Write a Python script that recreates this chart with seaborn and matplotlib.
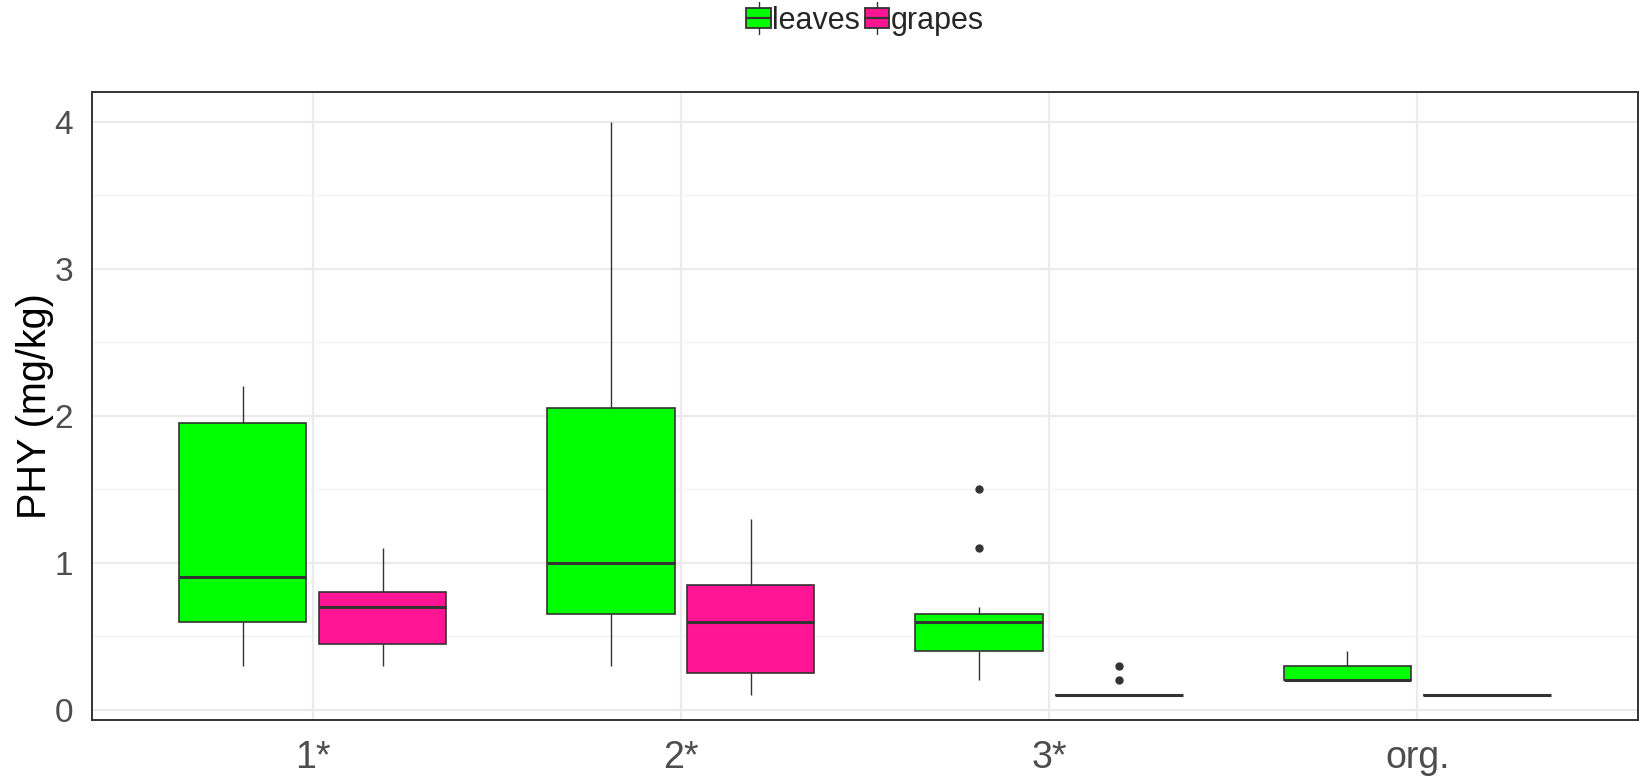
import numpy as np
import pandas as pd
import matplotlib
matplotlib.use("Agg")
import matplotlib.pyplot as plt
from matplotlib.patches import Patch, Rectangle
from matplotlib.lines import Line2D
from matplotlib.legend_handler import HandlerBase
import seaborn as sns

# raw values per treatment / tissue
groups = ["1*", "2*", "3*", "org."]
tissues = ["leaves", "grapes"]

leaves_1 = [0.3, 0.6, 0.9, 1.95, 2.2]
grapes_1 = [0.3, 0.45, 0.7, 0.8, 1.1]
leaves_2 = [0.3, 0.65, 1.0, 2.05, 4.0]
grapes_2 = [0.1, 0.25, 0.6, 0.85, 1.3]
leaves_3 = [0.2, 0.3, 0.4, 0.4, 0.5, 0.6, 0.6, 0.6, 0.65, 0.65, 0.7, 1.1, 1.5]
grapes_3 = [0.1, 0.1, 0.1, 0.1, 0.1, 0.1, 0.1, 0.1, 0.1, 0.1, 0.1, 0.2, 0.3]
leaves_org = [0.2, 0.2, 0.2, 0.3, 0.4]
grapes_org = [0.1, 0.1, 0.1, 0.1, 0.1]

data = {
    ("1*", "leaves"): leaves_1, ("1*", "grapes"): grapes_1,
    ("2*", "leaves"): leaves_2, ("2*", "grapes"): grapes_2,
    ("3*", "leaves"): leaves_3, ("3*", "grapes"): grapes_3,
    ("org.", "leaves"): leaves_org, ("org.", "grapes"): grapes_org,
}
rows = []
for (g, t), vals in data.items():
    for v in vals:
        rows.append({"group": g, "tissue": t, "PHY": v})
df = pd.DataFrame(rows)

palette = {"leaves": "#00FF00", "grapes": "#FF1493"}
dark = "#333333"


class BoxKey(HandlerBase):
    # ggplot-like boxplot legend key
    def create_artists(self, legend, orig_handle, xdescent, ydescent,
                       width, height, fontsize, trans):
        x0, y0 = -xdescent, -ydescent
        cx = x0 + width / 2
        whisk = Line2D([cx, cx], [y0 - 0.3 * height, y0 + 1.3 * height],
                       color=dark, lw=1.0, transform=trans)
        box = Rectangle((x0, y0), width, height,
                        facecolor=orig_handle.get_facecolor(),
                        edgecolor=dark, lw=1.3, transform=trans)
        med = Line2D([x0, x0 + width], [y0 + height / 2] * 2,
                     color=dark, lw=1.6, transform=trans)
        return [whisk, box, med]


sns.set_style("white")
plt.rcParams['font.family'] = ['Liberation Sans', 'DejaVu Sans']

fig = plt.figure(figsize=(16.4, 7.81), dpi=100)
ax = fig.add_axes([0.056, 0.078, 0.9428, 0.804])

sns.boxplot(data=df, x="group", y="PHY", hue="tissue", order=groups,
            hue_order=tissues, palette=palette, width=0.76, gap=0.09,
            whis=1.5, linewidth=1.2, linecolor=dark, saturation=1,
            medianprops={"linewidth": 2.2, "color": dark},
            whiskerprops={"linewidth": 1.0, "color": dark},
            capprops={"linewidth": 0},
            flierprops={"marker": "o", "markersize": 5,
                        "markerfacecolor": dark, "markeredgecolor": dark},
            legend=False, ax=ax)

ax.set_xlim(-0.6, 3.6)
ax.set_ylim(-0.07, 4.2)
ax.set_yticks([0, 1, 2, 3, 4])
ax.set_yticks([0.5, 1.5, 2.5, 3.5], minor=True)
ax.grid(True, which="major", color="#EBEBEB", linewidth=1.6)
ax.grid(True, which="minor", axis="y", color="#F2F2F2", linewidth=0.9)
ax.set_axisbelow(True)

for s in ax.spines.values():
    s.set_color(dark)
    s.set_linewidth(1.4)
    s.set_visible(True)

ax.tick_params(axis="both", which="major", direction="out", length=7.5,
               width=1.4, color=dark, labelcolor="#4D4D4D")
ax.tick_params(axis="y", which="minor", length=0)
ax.tick_params(axis="y", labelsize=24, pad=6)
ax.tick_params(axis="x", labelsize=27, pad=7)
ax.set_xlabel("")
ax.set_ylabel("PHY (mg/kg)", fontsize=28.5, color="black", labelpad=0)

handles = [Patch(facecolor=palette[t], label=t) for t in tissues]
fig.legend(handles=handles, handler_map={Patch: BoxKey()}, loc="center",
           bbox_to_anchor=(0.5275, 0.973), ncol=2, frameon=False,
           fontsize=22, handlelength=0.8, handleheight=0.62,
           handletextpad=0.05, columnspacing=0.15)

fig.savefig("out.png", dpi=100)
